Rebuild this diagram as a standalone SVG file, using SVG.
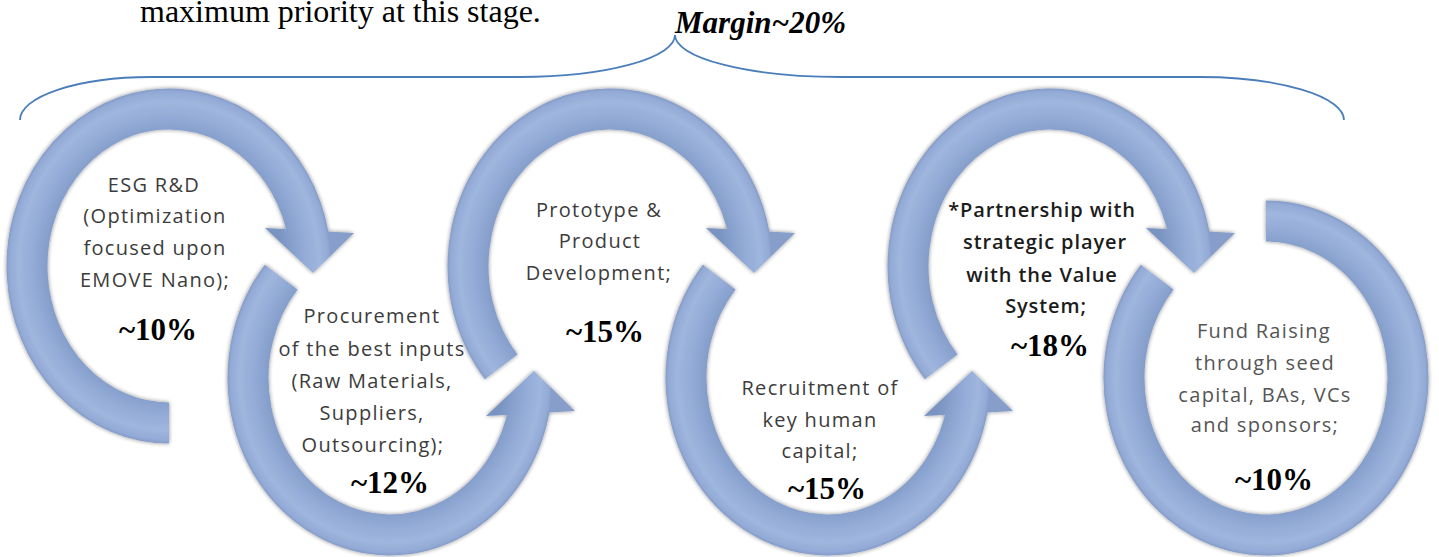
<svg xmlns="http://www.w3.org/2000/svg" xmlns:xlink="http://www.w3.org/1999/xlink" width="1439" height="557" viewBox="0 0 1439 557">
<defs>
<style>
.ring{fill:none;stroke-width:41;stroke-linecap:butt}
.lbl{font-family:"Open Sans","Liberation Sans",sans-serif;font-size:20px;fill:#3c3c3c;text-anchor:middle;letter-spacing:1.3px}
.dark{fill:#1c1c1c;font-weight:600;letter-spacing:0.9px}
.light{fill:#555555}
.pct{font-family:"Liberation Serif","Times New Roman",serif;font-weight:bold;font-size:31px;fill:#000;text-anchor:middle}
.brace{fill:none;stroke:#4a7ebb;stroke-width:1.8}
</style>
<radialGradient id="rg" cx="0" cy="0" r="1" gradientUnits="userSpaceOnUse">
<stop offset="0.70" stop-color="#7a94c2"/>
<stop offset="0.76" stop-color="#859ecb"/>
<stop offset="0.84" stop-color="#93abd6"/>
<stop offset="0.93" stop-color="#9fb6de"/>
<stop offset="0.985" stop-color="#92aad5"/>
<stop offset="1.0" stop-color="#869ec9"/>
</radialGradient>
<radialGradient id="g1" xlink:href="#rg" gradientUnits="userSpaceOnUse" cx="0" cy="0" r="1" gradientTransform="translate(169 266) scale(162 177)"/>
<radialGradient id="g3" xlink:href="#rg" gradientUnits="userSpaceOnUse" cx="0" cy="0" r="1" gradientTransform="translate(610 266) scale(162 177)"/>
<radialGradient id="g5" xlink:href="#rg" gradientUnits="userSpaceOnUse" cx="0" cy="0" r="1" gradientTransform="translate(1050 266) scale(162 177)"/>
<radialGradient id="g2" xlink:href="#rg" gradientUnits="userSpaceOnUse" cx="0" cy="0" r="1" gradientTransform="translate(390 378) scale(162 177)"/>
<radialGradient id="g4" xlink:href="#rg" gradientUnits="userSpaceOnUse" cx="0" cy="0" r="1" gradientTransform="translate(828 378) scale(162 177)"/>
<radialGradient id="g6" xlink:href="#rg" gradientUnits="userSpaceOnUse" cx="0" cy="0" r="1" gradientTransform="translate(1266 378) scale(162 177)"/>
<filter id="soft" x="-10%" y="-10%" width="120%" height="120%">
<feGaussianBlur in="SourceAlpha" stdDeviation="2"/>
<feComponentTransfer><feFuncA type="linear" slope="0.45"/></feComponentTransfer>
<feComposite in="SourceGraphic" operator="over"/>
<feGaussianBlur stdDeviation="0.6"/>
</filter>
</defs>
<rect width="1439" height="557" fill="#ffffff"/>

<g id="header">
<text x="140" y="22" font-family="Liberation Serif,Times New Roman,serif" font-size="32" fill="#000">maximum priority at this stage.</text>
<text x="675" y="33" font-family="Liberation Serif,Times New Roman,serif" font-size="31" font-weight="bold" font-style="italic" fill="#000">Margin~20%</text>
</g>

<g id="connectors">
<path class="brace" d="M 20 120 A 131 43 0 0 1 151 77 L 520 77 A 155 42 0 0 0 675 35 A 165 42 0 0 0 840 77 L 1200 77 A 144 43 0 0 1 1344 120"/>
</g>

<g id="node-esg">
<g filter="url(#soft)">
<path class="ring" stroke="url(#g1)" d="M 169 423 A 142 157 0 1 1 308.4 236.0"/>
<polygon points="265,228 313,273 354,233" fill="url(#g1)"/>
</g>
<text class="lbl" x="154" y="192">ESG R&amp;D</text>
<text class="lbl" x="155" y="223">(Optimization</text>
<text class="lbl" x="155" y="255">focused upon</text>
<text class="lbl" x="155" y="287">EMOVE Nano);</text>
<text class="pct" x="158" y="340">~10%</text>
</g>

<g id="node-procurement">
<g filter="url(#soft)">
<path class="ring" stroke="url(#g2)" d="M 281.2 277.1 A 142 157 0 1 0 529.4 408.0"/>
<polygon points="486,416 534,371 575,411" fill="url(#g2)"/>
</g>
<text class="lbl" x="372" y="323">Procurement</text>
<text class="lbl" x="372" y="356">of the best inputs</text>
<text class="lbl" x="372" y="388">(Raw Materials,</text>
<text class="lbl" x="372" y="420">Suppliers,</text>
<text class="lbl" x="373" y="452">Outsourcing);</text>
<text class="pct" x="390" y="493">~12%</text>
</g>

<g id="node-prototype">
<g filter="url(#soft)">
<path class="ring" stroke="url(#g3)" d="M 501.2 366.9 A 142 157 0 1 1 749.4 236.0"/>
<polygon points="706,228 754,273 795,233" fill="url(#g3)"/>
</g>
<text class="lbl" x="599" y="217">Prototype &amp;</text>
<text class="lbl" x="600" y="248">Product</text>
<text class="lbl" x="599" y="280">Development;</text>
<text class="pct" x="605" y="342">~15%</text>
</g>

<g id="node-recruitment">
<g filter="url(#soft)">
<path class="ring" stroke="url(#g4)" d="M 719.2 277.1 A 142 157 0 1 0 967.4 408.0"/>
<polygon points="924,416 972,371 1013,411" fill="url(#g4)"/>
</g>
<text class="lbl" x="820" y="395">Recruitment of</text>
<text class="lbl" x="820" y="427">key human</text>
<text class="lbl" x="820" y="458">capital;</text>
<text class="pct" x="827" y="499">~15%</text>
</g>

<g id="node-partnership">
<g filter="url(#soft)">
<path class="ring" stroke="url(#g5)" d="M 941.2 366.9 A 142 157 0 1 1 1189.4 236.0"/>
<polygon points="1146,228 1194,273 1235,233" fill="url(#g5)"/>
</g>
<text class="lbl dark" x="1042" y="217">*Partnership with</text>
<text class="lbl dark" x="1045" y="249">strategic player</text>
<text class="lbl dark" x="1042" y="282">with the Value</text>
<text class="lbl dark" x="1046" y="313">System;</text>
<text class="pct" x="1050" y="356">~18%</text>
</g>

<g id="node-fundraising">
<g filter="url(#soft)">
<path class="ring" stroke="url(#g6)" d="M 1157.2 277.1 A 142 157 0 1 0 1266 221"/>
</g>
<text class="lbl light" x="1264" y="338">Fund Raising</text>
<text class="lbl light" x="1265" y="370">through seed</text>
<text class="lbl light" x="1265" y="402">capital, BAs, VCs</text>
<text class="lbl light" x="1265" y="432">and sponsors;</text>
<text class="pct" x="1274" y="490">~10%</text>
</g>
</svg>
